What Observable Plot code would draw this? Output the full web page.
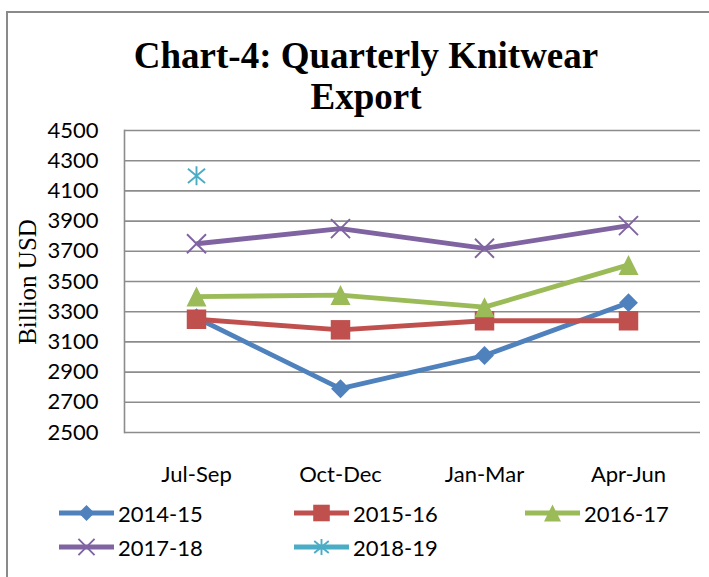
<!DOCTYPE html>
<html><head><meta charset="utf-8">
<script src="https://cdn.jsdelivr.net/npm/d3@7"></script>
<script src="https://cdn.jsdelivr.net/npm/@observablehq/plot@0.6"></script>
<style>
body{margin:0;background:#fff;}
#wrap{position:relative;width:709px;height:577px;overflow:hidden;background:#fff;}
#border{position:absolute;left:6px;top:11px;width:800px;height:800px;border:2px solid #8a8a8a;box-sizing:border-box;}
#title{position:absolute;left:0;width:732px;top:35px;text-align:center;font-family:"Liberation Serif",serif;font-weight:bold;font-size:37px;line-height:41px;color:#000;}
#ylabel{position:absolute;left:28px;top:282px;transform:translate(-50%,-50%) rotate(-90deg);font-family:"Liberation Serif","DejaVu Serif",serif;font-size:25px;white-space:nowrap;color:#000;}
#chart{position:absolute;left:0;top:0;}
#legend{position:absolute;left:0;top:0;width:709px;height:577px;pointer-events:none;}
.item{position:absolute;height:30px;display:flex;align-items:center;font-family:Lato,sans-serif;font-size:22px;color:#000;}
.item svg{display:block;margin-right:4px;}
</style></head>
<body>
<div id="wrap">
  <div id="border"></div>
  <div id="chart"></div>
  <div id="title">Chart-4: Quarterly Knitwear<br>Export</div>
  <div id="ylabel">Billion USD</div>
  <div id="legend"></div>
</div>
<script>
// ---- data ----
const quarters = ["Jul-Sep", "Oct-Dec", "Jan-Mar", "Apr-Jun"];
const seriesNames = ["2014-15", "2015-16", "2016-17", "2017-18", "2018-19"];
const v2014_15 = [3260, 2790, 3010, 3360];
const v2015_16 = [3250, 3180, 3240, 3240];
const v2016_17 = [3400, 3410, 3330, 3610];
const v2017_18 = [3750, 3850, 3720, 3870];
const v2018_19 = [4200, null, null, null];
const yTicks = [2500, 2700, 2900, 3100, 3300, 3500, 3700, 3900, 4100, 4300, 4500];

// ---- styles ----
const colors = ["#4F81BD", "#C0504D", "#9BBB59", "#8064A2", "#4BACC6"];
const triBox = {
  draw(ctx, size) {
    const h = Math.sqrt(size / Math.PI);
    ctx.moveTo(0, -h); ctx.lineTo(h, h); ctx.lineTo(-h, h); ctx.closePath();
  }
};
const starBox = {
  draw(ctx, size) {
    const h = Math.sqrt(size / Math.PI);
    ctx.moveTo(0, -h); ctx.lineTo(0, h);
    ctx.moveTo(-h * 0.9, -h * 0.75); ctx.lineTo(h * 0.9, h * 0.75);
    ctx.moveTo(-h * 0.9, h * 0.75); ctx.lineTo(h * 0.9, -h * 0.75);
  }
};
const markers = [
  {symbol: d3.symbolDiamond2, r: 8.5, filled: true},
  {symbol: d3.symbolSquare, r: 11, filled: true},
  {symbol: triBox, r: 10, filled: true},
  {symbol: d3.symbolTimes, r: 8.7, filled: false},
  {symbol: starBox, r: 9.5, filled: false}
];

const allValues = [v2014_15, v2015_16, v2016_17, v2017_18, v2018_19];
const rows = seriesNames.flatMap((s, i) =>
  quarters.map((q, j) => ({series: s, quarter: q, value: allValues[i][j]})));

const dotMarks = seriesNames.map((s, i) => {
  const m = markers[i];
  const data = rows.filter(d => d.series === s && d.value != null);
  return Plot.dot(data, {
    x: "quarter", y: "value", symbol: m.symbol, r: m.r,
    fill: m.filled ? colors[i] : "none",
    stroke: m.filled ? "none" : colors[i],
    strokeWidth: m.filled ? 0 : 1.9
  });
});

const chart = Plot.plot({
  width: 709, height: 577,
  marginLeft: 124, marginRight: 9, marginTop: 130, marginBottom: 145,
  style: {fontFamily: "Lato, sans-serif", fontSize: "22px", color: "#000", background: "transparent", overflow: "visible"},
  x: {type: "band", domain: quarters, padding: 0, axis: null},
  y: {domain: [2500, 4500], axis: null},
  color: {domain: seriesNames, range: colors},
  marks: [
    Plot.gridY(yTicks, {stroke: "#8c8c8c", strokeOpacity: 1, strokeWidth: 1.6}),
    Plot.frame({anchor: "left", stroke: "#8c8c8c", strokeWidth: 1.6}),
    Plot.axisY(yTicks, {tickSize: 0, tickPadding: 26, label: null, fontSize: 22, tickFormat: d => String(d)}),
    Plot.axisX({tickSize: 0, tickPadding: 34, label: null, fontSize: 22}),
    Plot.line(rows.filter(d => d.value != null), {
      x: "quarter", y: "value", z: "series", stroke: "series",
      strokeWidth: 4.8, strokeLinecap: "butt", strokeLinejoin: "round"
    }),
    ...dotMarks
  ]
});
document.getElementById("chart").appendChild(chart);

// ---- legend ----
const legendPos = [
  {x: 59, y: 513}, {x: 294, y: 513}, {x: 525, y: 513},
  {x: 59, y: 547}, {x: 294, y: 547}
];
const legend = d3.select("#legend");
seriesNames.forEach((s, i) => {
  const p = legendPos[i], m = markers[i];
  const rr = m.r * 0.85;
  const item = legend.append("div").attr("class", "item")
    .style("left", p.x + "px").style("top", (p.y - 15) + "px");
  const svg = item.append("svg").attr("width", 55).attr("height", 30);
  svg.append("line").attr("x1", 0).attr("x2", 55).attr("y1", 15).attr("y2", 15)
    .attr("stroke", colors[i]).attr("stroke-width", 4.8);
  svg.append("path").attr("transform", "translate(27.5,15)")
    .attr("d", d3.symbol(m.symbol, rr * rr * Math.PI)())
    .attr("fill", m.filled ? colors[i] : "none")
    .attr("stroke", m.filled ? "none" : colors[i])
    .attr("stroke-width", 1.9);
  item.append("span").text(s);
});
</script>
</body></html>
